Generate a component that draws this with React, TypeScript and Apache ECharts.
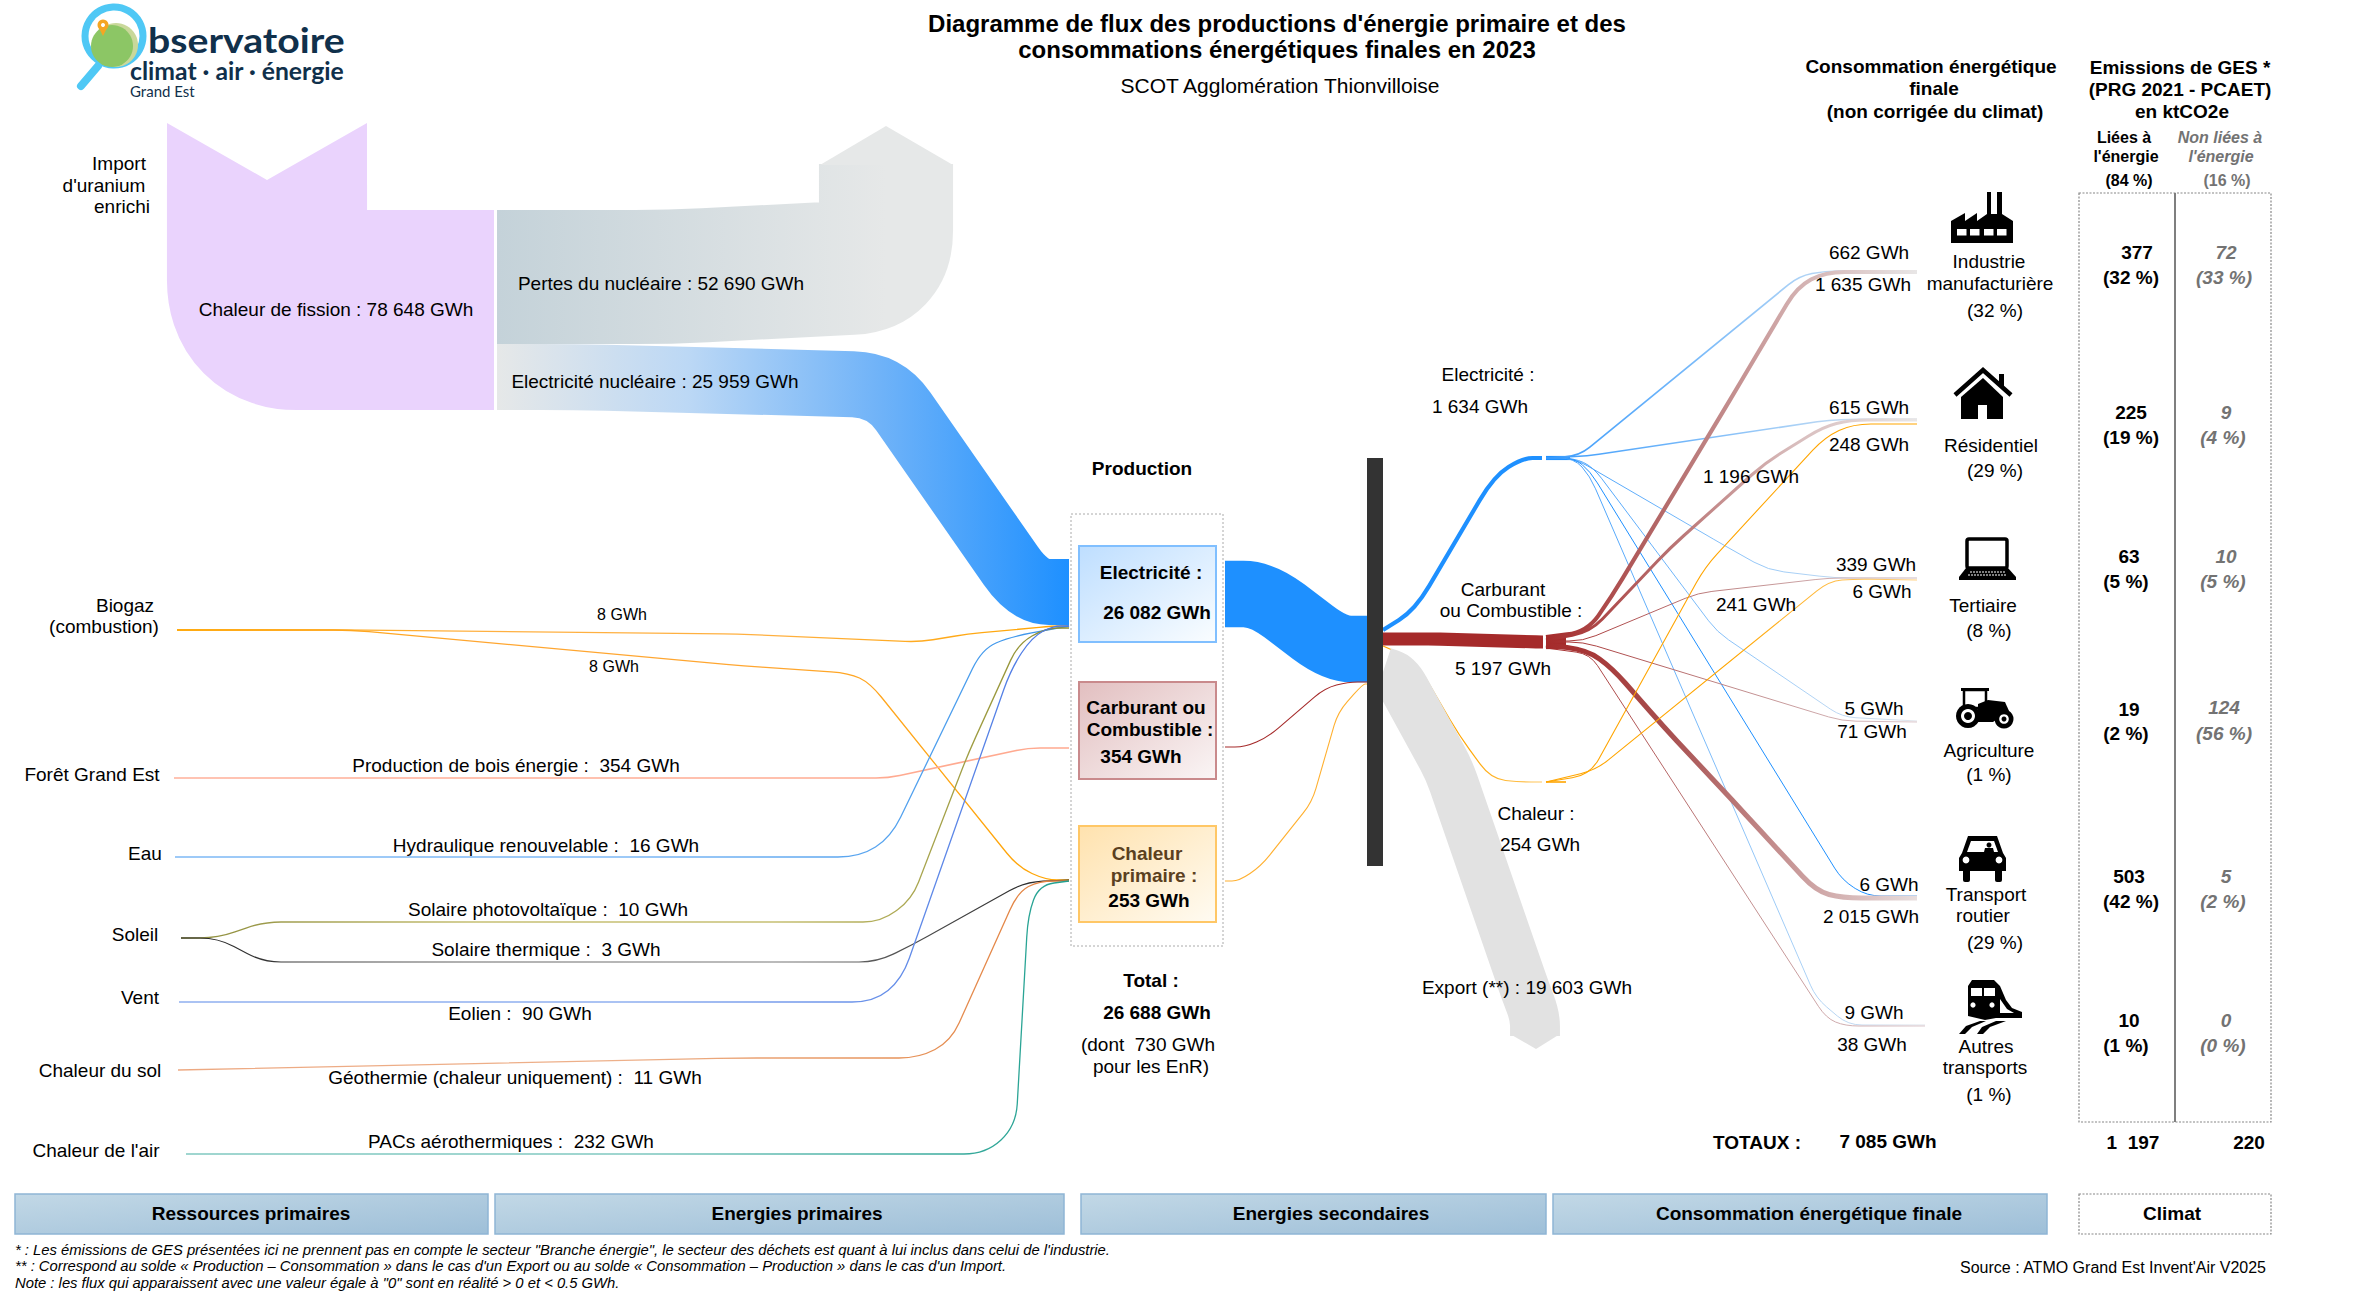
import React, { useEffect, useRef } from "react";
import * as echarts from "echarts";

/* ---------- values ---------- */
const GWH_PER_PX = 393; // flow widths are proportional to their GWh value
const nuclearFlows = [78648, 52690, 25959];
const primaryFlows = [8, 8, 354, 16, 10, 3, 90, 11, 232];
const productionFlows = [26082, 354, 253];
const secondaryFlows = [1634, 5197, 254, 19603];
const elecBySector = [662, 615, 339, 5, 6, 9];
const fuelBySector = [1635, 1196, 241, 71, 2015, 38];
const heatBySector = [248, 6];
const sectorShare = [32, 29, 8, 1, 29, 1];
const energyGes = [377, 225, 63, 19, 503, 10];
const energyGesShare = [32, 19, 5, 2, 42, 1];
const otherGes = [72, 9, 10, 124, 5, 0];
const otherGesShare = [33, 4, 5, 56, 2, 0];
const columnTitles = ["Ressources primaires", "Energies primaires", "Energies secondaires", "Consommation énergétique finale", "Climat"];
const footnotes = [
  "* : Les émissions de GES présentées ici ne prennent pas en compte le secteur \"Branche énergie\", le secteur des déchets est quant à lui inclus dans celui de l'industrie.",
  "** : Correspond au solde « Production – Consommation » dans le cas d'un Export ou au solde « Consommation – Production » dans le cas d'un Import.",
  "Note : les flux qui apparaissent avec une valeur égale à \"0\" sont en réalité > 0 et < 0.5 GWh.",
];

/* ---------- layout of the flows (routes in chart units) ---------- */
type Flow = { v: number; pts: number[][]; c: string[]; r?: number; min?: number; head?: number[][] };
const BLUE = "#1E90FF";
const RED = "#A52A2A";
const ORANGE = "#FFA500";
const fadeBlue = ["#3C9CFC", "#6DB4FA", "#A8D0F6", "#E0E4EA"];
const fadeRed = [RED, "#C08A8A", "#DCC8CC"];

const FLOWS: Flow[] = [
  { v: nuclearFlows[0], pts: [[494, 310], [267, 310], [267, 185]], c: ["#EAD3FD"], r: 30, head: [[167, 186], [167, 123], [267, 180], [367, 123], [367, 186]] },
  { v: nuclearFlows[1], pts: [[497, 277], [670, 277], [886, 266], [886, 164]], c: ["#C4D2D9", "#E6E8E8"], r: 35, head: [[820, 165], [886, 126], [953, 165]] },
  { v: nuclearFlows[2], pts: [[497, 377], [574, 377], [885, 385], [1029, 592], [1069, 592]], c: ["#E6E8E8", "#BCD8F5", "#70B3F8", BLUE], r: 32 },

  { v: primaryFlows[0], pts: [[177, 630], [351, 630], [737, 634], [919, 642], [968, 634], [1053, 626], [1069, 626]], c: [ORANGE, "#FFB040", "#FFB040", ORANGE], min: 1.3, r: 14 },
  { v: primaryFlows[1], pts: [[177, 630], [351, 630], [744, 666], [849, 673], [870, 683], [1018, 867], [1046, 880], [1069, 880]], c: [ORANGE, "#FFA630", "#FFA630", ORANGE], min: 1.3, r: 18 },
  { v: primaryFlows[2], pts: [[174, 778], [888, 778], [1028, 748], [1069, 748]], c: ["#FFB09A", "#FFA98F"], min: 1.7, r: 12 },
  { v: primaryFlows[3], pts: [[175, 857], [860, 857], [891, 837], [982, 649], [1010, 637], [1069, 626]], c: ["#7DB8F5", "#7DB8F5", "#3A94EA"], min: 1.3, r: 22 },
  { v: primaryFlows[4], pts: [[181, 938], [218, 938], [263, 922], [881, 922], [912, 899], [968, 754], [1018, 644], [1046, 628], [1069, 628]], c: ["#8C8C3C", "#C6BF72", "#C6BF72", "#8C8C2C"], min: 1.3, r: 18 },
  { v: primaryFlows[5], pts: [[181, 938], [218, 938], [263, 962], [877, 962], [912, 945], [1025, 882], [1069, 880]], c: ["#222222", "#666666", "#777777", "#222222"], min: 1.2, r: 18 },
  { v: primaryFlows[6], pts: [[179, 1002], [874, 1002], [902, 979], [1011, 669], [1032, 637], [1053, 626], [1069, 626]], c: ["#8FAFEF", "#8FAFEF", "#4A78E4"], min: 1.3, r: 22 },
  { v: primaryFlows[7], pts: [[178, 1070], [737, 1058], [919, 1058], [951, 1041], [1018, 892], [1039, 881], [1069, 881]], c: ["#EDA982", "#EDB08A", "#E2803C"], min: 1.3, r: 20 },
  { v: primaryFlows[8], pts: [[186, 1154], [986, 1154], [1016, 1126], [1028, 915], [1039, 885], [1069, 881]], c: ["#80C8C0", "#80C8C0", "#20A090"], min: 1.3, r: 22 },

  { v: productionFlows[0], pts: [[1225, 594], [1262, 594], [1335, 649], [1367, 649]], c: [BLUE], r: 28 },
  { v: productionFlows[1], pts: [[1225, 747], [1245, 747], [1268, 737], [1325, 688], [1348, 682], [1367, 682]], c: [RED], min: 1.1, r: 14 },
  { v: productionFlows[2], pts: [[1225, 881], [1239, 881], [1261, 866], [1312, 802], [1338, 712], [1363, 684], [1367, 684]], c: ["#FFB030"], min: 1.1, r: 14 },

  { v: secondaryFlows[0], pts: [[1383, 630], [1415, 610], [1494, 476], [1523, 458], [1542, 458]], c: [BLUE], r: 28 },
  { v: secondaryFlows[1], pts: [[1383, 639], [1434, 639], [1542, 642], [1543, 642]], c: [RED], r: 6 },
  { v: secondaryFlows[2], pts: [[1383, 646], [1415, 660], [1459, 735], [1491, 779], [1520, 782], [1542, 782]], c: [ORANGE, ORANGE, "#FFC860"], min: 1.2, r: 18 },
  { v: secondaryFlows[3], pts: [[1383, 672], [1398, 677], [1449, 770], [1525, 990], [1535, 1016], [1535, 1036]], c: ["#E2E2E2"], r: 14, head: [[1510, 1034], [1536, 1049], [1560, 1034]] },

  // bundles leaving the three secondary-energy nodes
  { v: secondaryFlows[0], pts: [[1546, 458], [1570, 458]], c: [BLUE] },
  { v: secondaryFlows[1], pts: [[1546, 642.5], [1566, 642.5]], c: [RED] },
  { v: secondaryFlows[2], pts: [[1546, 782], [1566, 782]], c: [ORANGE], min: 1.6 },

  { v: elecBySector[0], pts: [[1546, 458], [1579, 456], [1799, 276], [1825, 271], [1917, 271]], c: [...fadeBlue], min: 1.5, r: 14 },
  { v: elecBySector[1], pts: [[1546, 458], [1587, 456], [1829, 420], [1870, 419], [1917, 419]], c: [...fadeBlue], min: 1.5, r: 12 },
  { v: elecBySector[2], pts: [[1546, 458], [1574, 458], [1727, 547], [1768, 570], [1835, 578], [1917, 578]], c: [...fadeBlue], min: 1, r: 16 },
  { v: elecBySector[3], pts: [[1546, 458], [1574, 458], [1593, 467], [1717, 632], [1842, 717], [1917, 721]], c: [...fadeBlue], min: 1, r: 14 },
  { v: elecBySector[4], pts: [[1546, 458], [1574, 458], [1590, 471], [1842, 880], [1867, 896], [1917, 896]], c: [BLUE], min: 1, r: 14 },
  { v: elecBySector[5], pts: [[1546, 458], [1574, 458], [1590, 476], [1816, 998], [1848, 1025], [1925, 1025]], c: [...fadeBlue], min: 1, r: 14 },

  { v: fuelBySector[0], pts: [[1546, 637], [1587, 632], [1612, 596], [1730, 400], [1797, 287], [1825, 272], [1917, 272]], c: [RED, "#B56E6E", "#D2AEAE", "#E8E6E6"], r: 20 },
  { v: fuelBySector[1], pts: [[1546, 640], [1590, 632], [1670, 548], [1765, 463], [1823, 427], [1850, 420], [1917, 420]], c: [RED, "#B87070", "#D8BCBC", "#E8E6E6"], r: 18 },
  { v: fuelBySector[2], pts: [[1546, 641], [1583, 641], [1698, 593], [1829, 578], [1917, 578]], c: [...fadeRed], min: 1, r: 14 },
  { v: fuelBySector[3], pts: [[1546, 642], [1583, 642], [1842, 721], [1917, 722]], c: [...fadeRed], min: 1, r: 14 },
  { v: fuelBySector[4], pts: [[1546, 645], [1587, 650], [1612, 668], [1663, 726], [1746, 815], [1816, 891], [1842, 898], [1917, 898]], c: [RED, "#A85050", "#C89898", "#E8DEDE"], r: 20 },
  { v: fuelBySector[5], pts: [[1546, 648], [1590, 654], [1826, 1018], [1845, 1026], [1925, 1026]], c: [...fadeRed], min: 1, r: 14 },

  { v: heatBySector[0], pts: [[1546, 782], [1590, 775], [1705, 567], [1825, 437], [1853, 424], [1917, 424]], c: [ORANGE], min: 1.1, r: 18 },
  { v: heatBySector[1], pts: [[1546, 782], [1596, 770], [1829, 581], [1855, 579], [1917, 580]], c: [ORANGE, ORANGE, "#FFD080"], min: 1.1, r: 16 },
];

function roundPath(p: number[][], r: number) {
  let d = `M${p[0][0]} ${p[0][1]}`;
  for (let i = 1; i < p.length - 1; i++) {
    const [ax, ay] = p[i - 1], [bx, by] = p[i], [cx, cy] = p[i + 1];
    const la = Math.hypot(bx - ax, by - ay), lc = Math.hypot(cx - bx, cy - by);
    const ra = Math.min(r, la / 2), rc = Math.min(r, lc / 2);
    d += `L${bx - ((bx - ax) / la) * ra} ${by - ((by - ay) / la) * ra}`;
    d += `Q${bx} ${by} ${bx + ((cx - bx) / lc) * rc} ${by + ((cy - by) / lc) * rc}`;
  }
  const e = p[p.length - 1];
  return d + `L${e[0]} ${e[1]}`;
}

function paint(f: Flow, pts: number[][]) {
  if (f.c.length === 1) return f.c[0];
  const xs = pts.map((q) => q[0]);
  const x0 = Math.min(...xs), x1 = Math.max(...xs);
  return new echarts.graphic.LinearGradient(x0, 0, x1, 0, f.c.map((color, i) => ({ offset: i / (f.c.length - 1), color })), true);
}

const renderFlow = (_: any, api: any) => {
  const f = FLOWS[api.value(0)];
  const pts = f.pts.map((q) => api.coord(q));
  const fillPaint = paint(f, pts);
  const children: any[] = [
    {
      type: "path",
      shape: { pathData: roundPath(pts, f.r ?? 16) },
      style: { fill: "none", stroke: fillPaint, lineWidth: Math.max(f.v / GWH_PER_PX, f.min ?? 1), lineCap: "butt", lineJoin: "round" },
    },
  ];
  if (f.head) {
    children.push({ type: "polygon", shape: { points: f.head.map((q) => api.coord(q)) }, style: { fill: f.c[f.c.length - 1] } });
  }
  return { type: "group", children };
};

/* ---------- static page furniture ---------- */
const FONT = '"Liberation Sans", Arial, sans-serif';
type TO = { s?: number; b?: boolean; i?: boolean; c?: string; a?: string; f?: string; sx?: number };
const T = (text: string, x: number, y: number, o: TO = {}) => ({
  type: "text",
  z: 100,
  x,
  y: y - 1,
  scaleX: o.sx ?? 1,
  silent: true,
  style: {
    text,
    fill: o.c ?? "#000",
    align: o.a ?? "center",
    verticalAlign: "middle",
    font: `${o.i ? "italic " : ""}${o.b ? "bold " : ""}${o.s ?? 19}px ${o.f ?? FONT}`,
  },
});
const R = (x: number, y: number, w: number, h: number, style: any, z = 50) => ({ type: "rect", z, silent: true, shape: { x, y, width: w, height: h }, style });
const diag = (a: string, b: string) => new echarts.graphic.LinearGradient(0, 0, 1, 1, [{ offset: 0, color: a }, { offset: 1, color: b }]);
const K = { fill: "#000" };
const W = { fill: "#fff" };
const P = (points: number[][], style: any = K, z = 60) => ({ type: "polygon", z, silent: true, shape: { points }, style });
const C = (cx: number, cy: number, r: number, style: any = K, z = 60) => ({ type: "circle", z, silent: true, shape: { cx, cy, r }, style });
const RR = (x: number, y: number, w: number, h: number, style: any = K, z = 60, r = 0) => ({ type: "rect", z, silent: true, shape: { x, y, width: w, height: h, r }, style });

const icons = [
  // factory
  P([[1951, 243], [1951, 221], [1965, 213], [1965, 221], [1977, 213], [1977, 221], [1987, 214], [1987, 192], [1991, 192], [1991, 214], [1997, 214], [1997, 192], [2002, 192], [2002, 214], [2013, 221], [2013, 243]]),
  ...[1957, 1970, 1984, 1997].map((x) => RR(x, 229, 9.5, 6.5, W, 61)),
  // house
  { type: "polyline", z: 60, silent: true, shape: { points: [[1955, 395], [1983, 370], [2011, 395]] }, style: { stroke: "#000", lineWidth: 4.5, fill: "none" } },
  P([[1961, 397], [1983, 378], [2003, 397], [2003, 419], [1961, 419]]),
  RR(1978, 405, 9, 14, W, 61),
  RR(1999, 374, 5, 12),
  // laptop
  RR(1967, 539, 40, 29, { fill: "none", stroke: "#000", lineWidth: 3.5 }, 60, 2),
  P([[1966, 568], [2008, 568], [2016, 577], [2016, 580], [1959, 580], [1959, 577]]),
  { type: "line", z: 61, silent: true, shape: { x1: 1970, y1: 572, x2: 2005, y2: 572 }, style: { stroke: "#fff", lineWidth: 1, lineDash: [2, 1] } },
  { type: "line", z: 61, silent: true, shape: { x1: 1968, y1: 575, x2: 2007, y2: 575 }, style: { stroke: "#fff", lineWidth: 1, lineDash: [2, 1] } },
  // tractor
  RR(1964, 690, 22, 18, { fill: "none", stroke: "#000", lineWidth: 2.5 }),
  P([[1961, 688], [1989, 688], [1989, 691], [1961, 691]]),
  P([[1978, 704], [1988, 700], [2005, 702], [2009, 711], [1993, 722], [1978, 722]]),
  C(1968, 716, 12), C(1968, 716, 7, W, 61), C(1968, 716, 4, K, 62),
  C(2004, 719, 9.5), C(2004, 719, 4.8, W, 61), C(2004, 719, 2.5, K, 62),
  // car
  P([[1968, 836], [1997, 836], [2003, 853], [2006, 858], [2006, 871], [1959, 871], [1959, 858], [1962, 853]]),
  P([[1971, 841], [1994, 841], [1998, 852], [1967, 852]], W, 61),
  C(1989, 845, 2.5, K, 62), P([[1984, 852], [1985, 848], [1993, 848], [1994, 852]], K, 62),
  C(1966, 860, 3.4, W, 61), C(1999, 860, 3.4, W, 61),
  RR(1963, 868, 7, 14, K, 60, 2), RR(1995, 868, 7, 14, K, 60, 2),
  // train
  P([[1972, 980], [1994, 980], [2000, 986], [2006, 1000], [2012, 1008], [2022, 1012], [2022, 1018], [1996, 1018], [1985, 1020], [1968, 1016], [1968, 986]]),
  RR(1971, 988, 11, 8, W, 61), RR(1984, 988, 11, 8, W, 61),
  C(1973, 1005, 2.6, W, 61), C(1992, 1005, 2.6, W, 61),
  P([[2000, 999], [2007, 1009], [2014, 1013], [2000, 1013]], W, 61),
  P([[1959, 1034], [1966, 1026], [1980, 1021], [1986, 1021], [1972, 1027], [1965, 1034]]),
  P([[1977, 1034], [1982, 1027], [1996, 1021], [2006, 1021], [1990, 1027], [1983, 1034]]),
];

const logo = [
  { type: "circle", z: 20, silent: true, shape: { cx: 114, cy: 36, r: 29 }, style: { fill: "#fff", stroke: "#4FC8F5", lineWidth: 7 } },
  { type: "line", z: 20, silent: true, shape: { x1: 98, y1: 66, x2: 81, y2: 86 }, style: { stroke: "#4FC8F5", lineWidth: 8, lineCap: "round" } },
  C(116, 45, 22, { fill: "#C9D89A" }, 21),
  C(112, 46, 21, { fill: "#8CC665" }, 22),
  C(103, 25, 5.5, { fill: "#F5A623" }, 23),
  P([[99, 28], [107, 28], [103, 36]], { fill: "#F5A623" }, 23),
  C(103, 25, 2, W, 24),
  T("bservatoire", 148, 40, { s: 35, b: true, c: "#10304B", a: "left", f: "Lato, sans-serif", sx: 1.12 }),
  T("climat · air · énergie", 130, 72, { s: 24, b: true, c: "#10304B", a: "left", f: "Lato, sans-serif", sx: 1.03 }),
  T("Grand Est", 130, 92, { s: 15, c: "#10304B", a: "left", f: "Lato, sans-serif" }),
];

const barFill = () => diag("#C2D8E6", "#9EBFD8");
const barBorder = { stroke: "#8FB5D5", lineWidth: 1.5 };
const GREY = "#737373";

const furniture: any[] = [
  ...logo,
  ...icons,
  R(1367, 458, 16, 408, { fill: "#333333" }, 30),
  R(1071, 514, 152, 432, { fill: "#fff", stroke: "#AAAAAA", lineWidth: 1, lineDash: [2, 2] }, 5),
  R(1079, 546, 137, 96, { fill: diag("#BEDEFF", "#FAFDFF"), stroke: "#80BFFF", lineWidth: 2 }),
  R(1079, 682, 137, 97, { fill: diag("#E2BFC0", "#FAF5F5"), stroke: "#C98A8C", lineWidth: 2 }),
  R(1079, 826, 137, 96, { fill: diag("#FFE2AE", "#FFFBF2"), stroke: "#FFC766", lineWidth: 2 }),
  R(15, 1194, 473, 40, { fill: barFill(), ...barBorder }),
  R(495, 1194, 569, 40, { fill: barFill(), ...barBorder }),
  R(1081, 1194, 465, 40, { fill: barFill(), ...barBorder }),
  R(1553, 1194, 494, 40, { fill: barFill(), ...barBorder }),
  R(2079, 1194, 192, 40, { fill: "#fff", stroke: "#888", lineWidth: 1.2, lineDash: [2, 1.5] }),
  R(2079, 193, 192, 929, { fill: "#fff", stroke: "#888", lineWidth: 1.2, lineDash: [2, 1.5] }, 5),
  { type: "line", z: 40, silent: true, shape: { x1: 2175, y1: 193, x2: 2175, y2: 1122 }, style: { stroke: "#7F7F7F", lineWidth: 2 } },

  T("Diagramme de flux des productions d'énergie primaire et des", 1277, 24, { s: 24, b: true }),
  T("consommations énergétiques finales en 2023", 1277, 50, { s: 24, b: true }),
  T("SCOT Agglomération Thionvilloise", 1280, 86, { s: 21 }),

  T("Import", 119, 164), T("d'uranium", 104, 186), T("enrichi", 122, 207),
  T(`Chaleur de fission : 78 648 GWh`, 336, 310),
  T(`Pertes du nucléaire : 52 690 GWh`, 661, 284),
  T(`Electricité nucléaire : 25 959 GWh`, 655, 382),

  T("Biogaz", 125, 606), T("(combustion)", 104, 627),
  T(`${primaryFlows[0]} GWh`, 622, 615, { s: 16 }), T(`${primaryFlows[1]} GWh`, 614, 667, { s: 16 }),
  T("Forêt Grand Est", 92, 775),
  T(`Production de bois énergie :  ${primaryFlows[2]} GWh`, 516, 766),
  T("Eau", 145, 854),
  T(`Hydraulique renouvelable :  ${primaryFlows[3]} GWh`, 546, 846),
  T("Soleil", 135, 935),
  T(`Solaire photovoltaïque :  ${primaryFlows[4]} GWh`, 548, 910),
  T(`Solaire thermique :  ${primaryFlows[5]} GWh`, 546, 950),
  T("Vent", 140, 998),
  T(`Eolien :  ${primaryFlows[6]} GWh`, 520, 1014),
  T("Chaleur du sol", 100, 1071),
  T(`Géothermie (chaleur uniquement) :  ${primaryFlows[7]} GWh`, 515, 1078),
  T("Chaleur de l'air", 96, 1151),
  T(`PACs aérothermiques :  ${primaryFlows[8]} GWh`, 511, 1142),

  T("Production", 1142, 469, { b: true }),
  T("Electricité :", 1151, 573, { b: true }), T("26 082 GWh", 1157, 613, { b: true }),
  T("Carburant ou", 1146, 708, { b: true }), T("Combustible :", 1150, 730, { b: true }), T("354 GWh", 1141, 757, { b: true }),
  T("Chaleur", 1147, 854, { b: true, c: "#5B4020" }), T("primaire :", 1154, 876, { b: true, c: "#5B4020" }), T("253 GWh", 1149, 901, { b: true }),
  T("Total :", 1151, 981, { b: true }), T("26 688 GWh", 1157, 1013, { b: true }),
  T("(dont  730 GWh", 1148, 1045), T("pour les EnR)", 1151, 1067),

  T("Electricité :", 1488, 375), T("1 634 GWh", 1480, 407),
  T("Carburant", 1503, 590), T("ou Combustible :", 1511, 611), T("5 197 GWh", 1503, 669),
  T("Chaleur :", 1536, 814), T("254 GWh", 1540, 845),
  T("Export (**) : 19 603 GWh", 1527, 988),
  T("1 196 GWh", 1751, 477), T("241 GWh", 1756, 605),

  T("662 GWh", 1869, 253), T("1 635 GWh", 1863, 285),
  T("615 GWh", 1869, 408), T("248 GWh", 1869, 445),
  T("339 GWh", 1876, 565), T("6 GWh", 1882, 592),
  T("5 GWh", 1874, 709), T("71 GWh", 1872, 732),
  T("6 GWh", 1889, 885), T("2 015 GWh", 1871, 917),
  T("9 GWh", 1874, 1013), T("38 GWh", 1872, 1045),

  T("Industrie", 1989, 262), T("manufacturière", 1990, 284), T(`(${sectorShare[0]} %)`, 1995, 311),
  T("Résidentiel", 1991, 446), T(`(${sectorShare[1]} %)`, 1995, 471),
  T("Tertiaire", 1983, 606), T(`(${sectorShare[2]} %)`, 1989, 631),
  T("Agriculture", 1989, 751), T(`(${sectorShare[3]} %)`, 1989, 775),
  T("Transport", 1986, 895), T("routier", 1983, 916), T(`(${sectorShare[4]} %)`, 1995, 943),
  T("Autres", 1986, 1047), T("transports", 1985, 1068), T(`(${sectorShare[5]} %)`, 1989, 1095),

  T("Consommation énergétique", 1931, 67, { b: true }), T("finale", 1934, 89, { b: true }), T("(non corrigée du climat)", 1935, 112, { b: true }),
  T("Emissions de GES *", 2180, 68, { b: true }), T("(PRG 2021 - PCAET)", 2180, 90, { b: true }), T("en ktCO2e", 2182, 112, { b: true }),
  T("Liées à", 2124, 138, { s: 16, b: true }), T("l'énergie", 2126, 157, { s: 16, b: true }), T("(84 %)", 2129, 181, { s: 16, b: true }),
  T("Non liées à", 2220, 138, { s: 16, b: true, i: true, c: GREY }), T("l'énergie", 2221, 157, { s: 16, b: true, i: true, c: GREY }), T("(16 %)", 2227, 181, { s: 16, b: true, c: GREY }),

  ...[[2137, 2131, 253, 278], [2131, 2131, 413, 438], [2129, 2126, 557, 582], [2129, 2126, 710, 734], [2129, 2131, 877, 902], [2129, 2126, 1021, 1046]].flatMap((q, i) => [
    T(String(energyGes[i]), q[0], q[2], { b: true }),
    T(`(${energyGesShare[i]} %)`, q[1], q[3], { b: true }),
  ]),
  ...[[2226, 2224, 253, 278], [2226, 2223, 413, 438], [2226, 2223, 557, 582], [2224, 2224, 708, 734], [2226, 2223, 877, 902], [2226, 2223, 1021, 1046]].flatMap((q, i) => [
    T(String(otherGes[i]), q[0], q[2], { b: true, i: true, c: GREY }),
    T(`(${otherGesShare[i]} %)`, q[1], q[3], { b: true, i: true, c: GREY }),
  ]),

  T("TOTAUX :", 1757, 1143, { b: true }),
  T("7 085 GWh", 1888, 1142, { b: true }),
  T("1  197", 2133, 1143, { b: true }), T("220", 2249, 1143, { b: true }),

  T(columnTitles[0], 251, 1214, { b: true }), T(columnTitles[1], 797, 1214, { b: true }),
  T(columnTitles[2], 1331, 1214, { b: true }), T(columnTitles[3], 1809, 1214, { b: true }),
  T(columnTitles[4], 2172, 1214, { b: true }),

  T(footnotes[0], 15, 1251, { s: 14.8, i: true, a: "left" }),
  T(footnotes[1], 15, 1267, { s: 14.8, i: true, a: "left" }),
  T(footnotes[2], 15, 1284, { s: 14.8, i: true, a: "left" }),
  T("Source : ATMO Grand Est Invent'Air V2025", 2266, 1268, { s: 16, a: "right" }),
];

export default function App() {
  const ref = useRef<HTMLDivElement>(null);
  useEffect(() => {
    const chart = echarts.init(ref.current!, undefined, { renderer: "svg" });
    chart.setOption({
      animation: false,
      backgroundColor: "#fff",
      grid: { left: 0, right: 0, top: 0, bottom: 0 },
      xAxis: { type: "value", min: 0, max: 2370, show: false },
      yAxis: { type: "value", min: 0, max: 1299, inverse: true, show: false },
      graphic: { elements: furniture },
      series: [
        {
          type: "custom",
          coordinateSystem: "cartesian2d",
          clip: false,
          silent: true,
          z: 10,
          renderItem: renderFlow,
          data: FLOWS.map((_, i) => [i]),
        },
      ],
    });
    return () => chart.dispose();
  }, []);
  return <div ref={ref} style={{ position: "absolute", left: 0, top: 0, width: 2370, height: 1299 }} />;
}
